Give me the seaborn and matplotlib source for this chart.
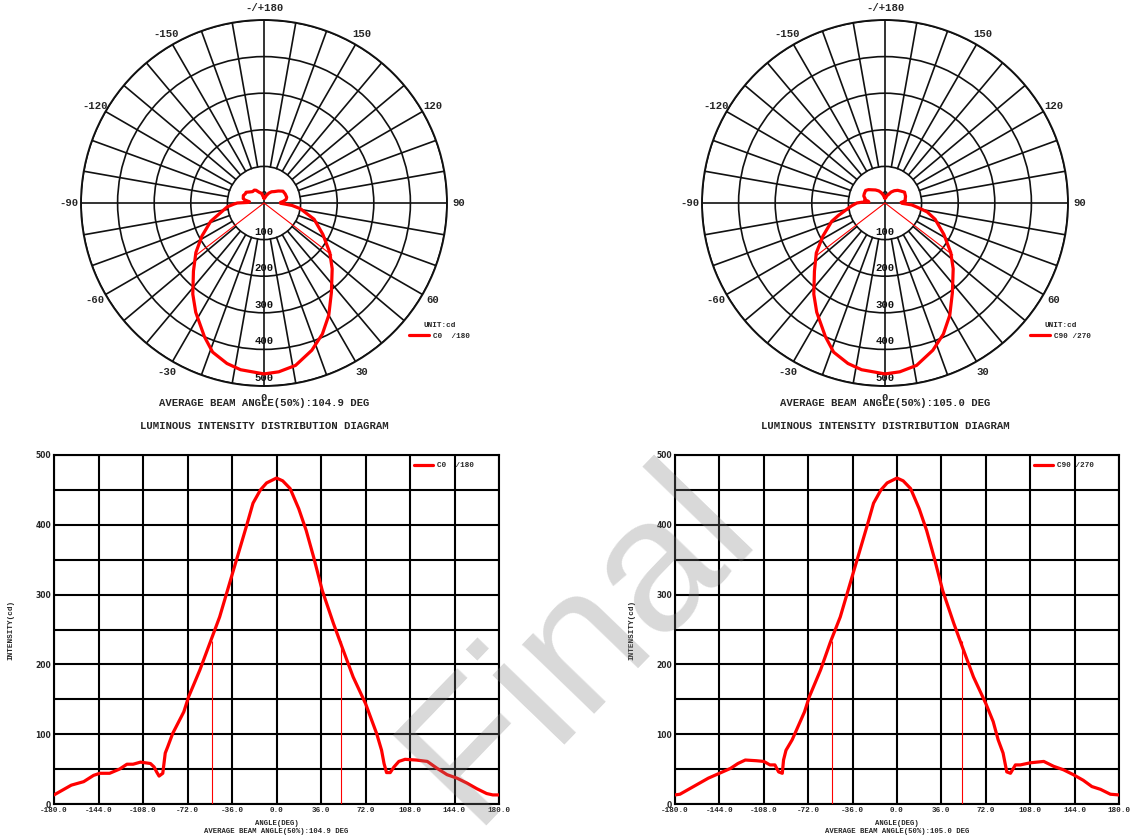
import numpy as np
import matplotlib
matplotlib.use('Agg')
import matplotlib.pyplot as plt
import seaborn as sns

sns.set_style('white')
plt.rcParams['font.family'] = ['Liberation Mono', 'DejaVu Sans']
plt.rcParams['font.weight'] = 'bold'

# ---- data (angle in deg, intensity in cd) ----
ang_c0 = [-180, -166, -156, -148, -143, -135, -127, -121, -116, -110, -102, -99, -97, -95, -92,
          -90, -88, -84, -75, -71, -62, -54, -46, -38, -32, -24, -19, -13, -8, 0, 5, 11, 18, 24,
          30, 37, 46, 53, 62, 72, 81, 85, 87, 89, 92, 95, 99, 104, 113, 122, 130, 138, 146, 154,
          162, 170, 175, 180]
int_c0 = [13, 27, 32, 41, 44, 44, 50, 57, 57, 60, 58, 53, 46, 40, 44,
          73, 82, 101, 132, 154, 192, 230, 268, 316, 352, 400, 431, 450, 460, 467, 463, 452, 423, 392,
          354, 306, 259, 225, 182, 144, 101, 77, 58, 45, 45, 53, 61, 64, 63, 61, 51, 42, 37, 30,
          22, 15, 13, 13]

ang_c90 = [-180, -176, -168, -160, -153, -144, -135, -129, -123, -114, -108, -103, -99, -96, -93,
           -92, -90, -85, -75, -71, -62, -54, -46, -38, -32, -24, -19, -13, -8, 0, 5, 11, 18, 24,
           30, 37, 46, 53, 62, 72, 78, 82, 86, 89, 92, 96, 100, 108, 119, 127, 135, 143, 151, 158,
           165, 173, 180]
int_c90 = [13, 14, 22, 30, 37, 44, 51, 58, 63, 62, 61, 56, 56, 46, 44,
           63, 77, 92, 132, 154, 192, 232, 268, 316, 352, 400, 431, 450, 460, 467, 463, 452, 423, 392,
           354, 306, 259, 225, 182, 144, 118, 92, 73, 46, 44, 56, 56, 59, 61, 54, 49, 42, 34, 25,
           21, 14, 13]

beam_c0 = 104.9
beam_c90 = 105.0
label_c0 = 'C0  /180'
label_c90 = 'C90 /270'

polar_labels = ['0', '30', '60', '90', '120', '150', '-/+180', '-150', '-120', '-90', '-60', '-30']
ring_vals = [100, 200, 300, 400, 500]
x_ticks = np.arange(-180, 181, 36)

RED = '#ff0000'
W, H = 1135, 838


def draw_polar(fig, cx, cy, angles, intens, label, beam):
    R = 183
    ax = fig.add_axes([(cx - R) / W, (H - cy - R) / H, 2 * R / W, 2 * R / H], projection='polar')
    ax.set_theta_zero_location('S')
    ax.set_theta_direction(1)
    ax.set_ylim(0, 500)
    ax.set_rticks(ring_vals)
    ax.set_yticklabels([])
    ax.yaxis.grid(True, color='#111111', lw=1.2)
    ax.xaxis.grid(False)
    ax.spines['polar'].set_linewidth(1.4)
    ax.spines['polar'].set_color('#111111')
    for d in range(0, 360, 10):
        r0 = 0 if d % 90 == 0 else 100
        ax.plot([np.deg2rad(d)] * 2, [r0, 500], color='#111111', lw=1.2, zorder=1)
    ax.set_xticks(np.deg2rad(np.arange(0, 360, 30)))
    ax.set_xticklabels(polar_labels, fontsize=7.7, fontweight='bold')
    ax.tick_params(axis='x', pad=-2)
    for v in [0] + ring_vals:
        ax.text(np.pi if v == 0 else 0, 22 if v == 0 else v - 22, str(v), ha='center', va='center',
                fontsize=7.7, fontweight='bold', color='#111111', zorder=2)
    th = np.deg2rad(angles)
    sns.lineplot(x=th, y=intens, ax=ax, color=RED, lw=2.3, sort=False, label=label, zorder=5)
    half = max(intens) / 2
    for s in (-1, 1):
        ax.plot([0, np.deg2rad(s * beam / 2)], [0, half], color=RED, lw=0.8, zorder=4)
    ax.set_xlabel('')
    ax.set_ylabel('')
    ax.legend(loc='center left', bbox_to_anchor=((cx + 141) / W, (H - 331) / H),
              bbox_transform=fig.transFigure, frameon=False, fontsize=5.5, title='UNIT:cd',
              title_fontsize=5.5, handlelength=2.6, handletextpad=0.6, borderpad=0)
    fig.text(cx / W, 1 - 403 / H, f'AVERAGE BEAM ANGLE(50%):{beam:.1f} DEG', ha='center', va='center',
             fontsize=7.7, fontweight='bold')
    fig.text(cx / W, 1 - 426 / H, 'LUMINOUS INTENSITY DISTRIBUTION DIAGRAM', ha='center', va='center',
             fontsize=7.7, fontweight='bold')
    return ax


def draw_cart(fig, x0, x1, angles, intens, label, beam):
    top, bot = 455, 804
    ax = fig.add_axes([x0 / W, (H - bot) / H, (x1 - x0) / W, (bot - top) / H])
    sns.lineplot(x=angles, y=intens, ax=ax, color=RED, lw=2.3, sort=False, label=label, zorder=5)
    half = max(intens) / 2
    ax.vlines([-beam / 2, beam / 2], 0, half, color=RED, lw=0.8, zorder=4)
    ax.set_xlim(-180, 180)
    ax.set_ylim(0, 500)
    ax.set_xticks(x_ticks)
    ax.set_xticklabels([f'{v:.1f}' for v in x_ticks], fontsize=5.5, fontweight='bold')
    ax.set_yticks(np.arange(0, 501, 100))
    ax.set_yticks(np.arange(50, 500, 100), minor=True)
    ax.set_yticklabels([str(v) for v in range(0, 501, 100)], fontsize=5.5, fontweight='bold',
                       family='DejaVu Sans')
    ax.grid(True, which='both', color='black', lw=1.5)
    ax.tick_params(which='both', length=0, pad=2)
    for sp in ax.spines.values():
        sp.set_color('black')
        sp.set_linewidth(1.5)
    ax.set_xlabel('')
    ax.set_ylabel('INTENSITY(cd)', fontsize=5.5, fontweight='bold')
    ax.yaxis.set_label_coords(-40 / (x1 - x0), 0.5)
    ax.text(0.5, -19 / 349, 'ANGLE(DEG)', transform=ax.transAxes, ha='center', va='center',
            fontsize=5.2, fontweight='bold')
    ax.text(0.5, -27 / 349, f'AVERAGE BEAM ANGLE(50%):{beam:.1f} DEG', transform=ax.transAxes,
            ha='center', va='center', fontsize=5.2, fontweight='bold')
    ax.legend(loc='upper right', frameon=False, fontsize=5.5, handlelength=2.4, handletextpad=0.6,
              borderaxespad=0.5, bbox_to_anchor=(0.96, 1.0))
    return ax


fig = plt.figure(figsize=(W / 100, H / 100), dpi=100)
draw_polar(fig, 264, 203, ang_c0, int_c0, label_c0, beam_c0)
draw_polar(fig, 885, 203, ang_c90, int_c90, label_c90, beam_c90)
draw_cart(fig, 54, 499, ang_c0, int_c0, label_c0, beam_c0)
draw_cart(fig, 675, 1119, ang_c90, int_c90, label_c90, beam_c90)

fig.text(0.51, 0.232, 'Final', rotation=46, fontsize=137, color='#808080', alpha=0.3,
         ha='center', va='center', family='Liberation Sans', fontweight='normal', zorder=10)

fig.savefig('out.png', dpi=100)
